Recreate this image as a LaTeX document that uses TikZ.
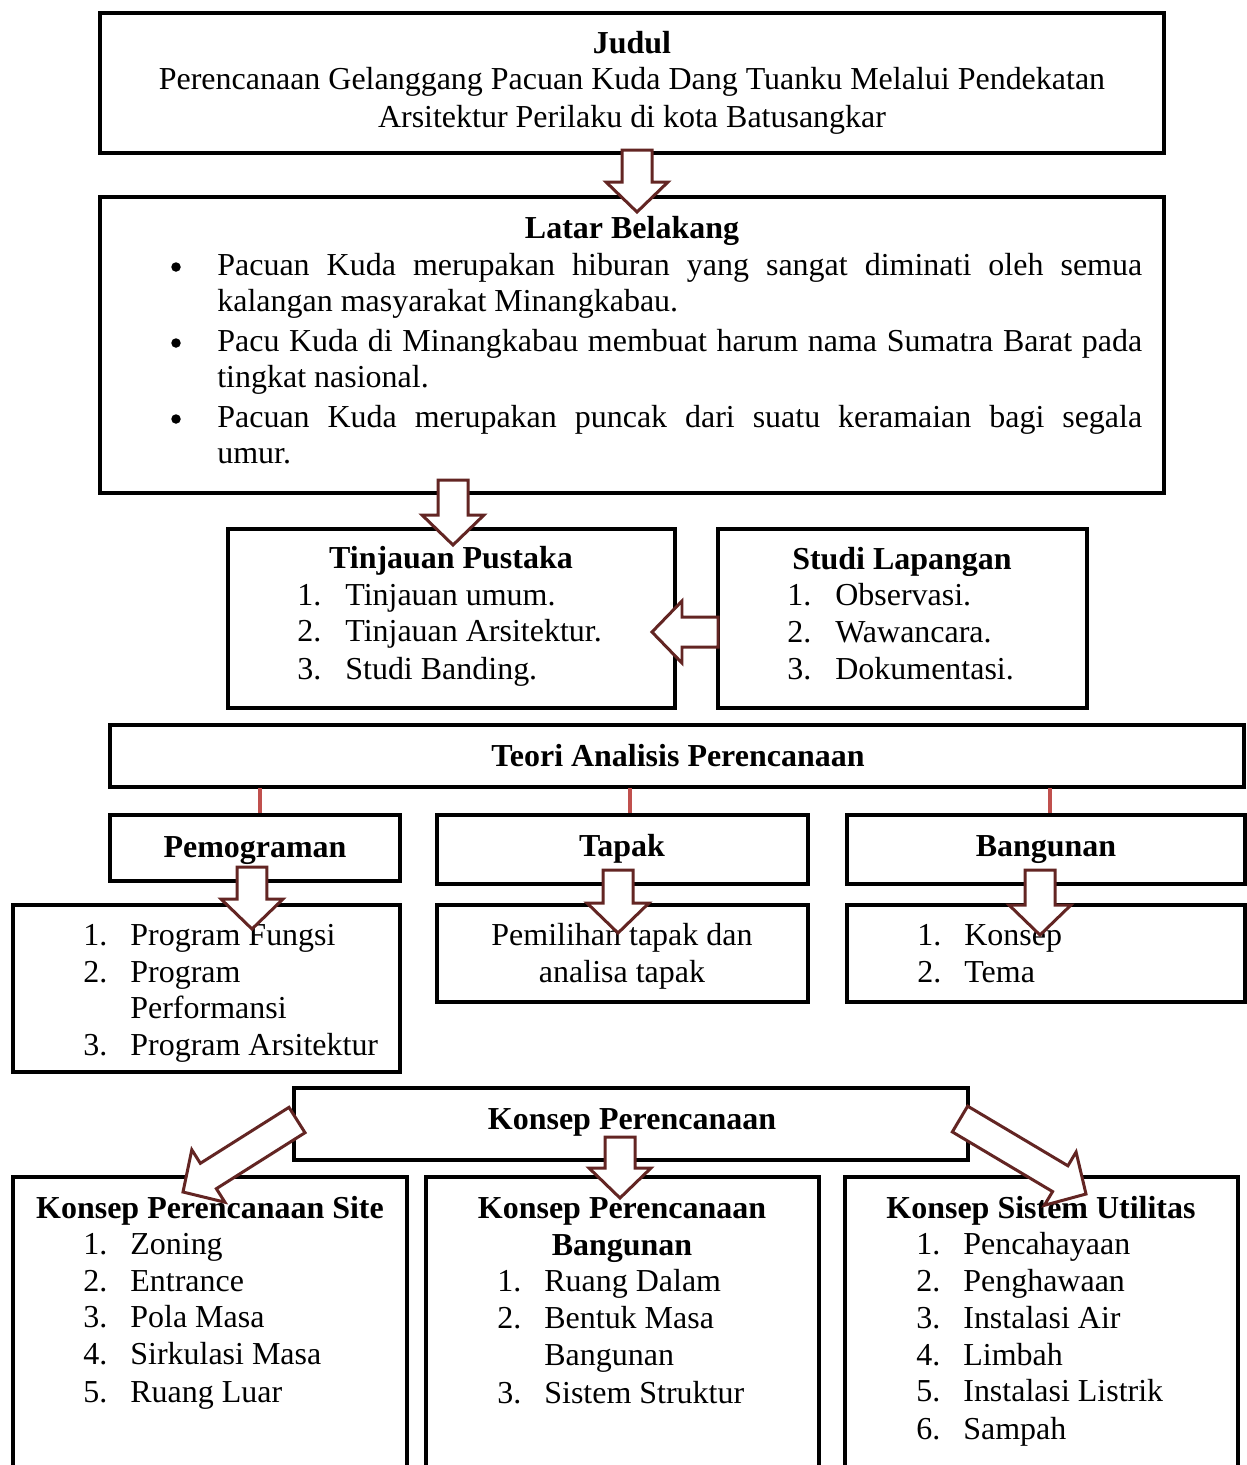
\documentclass[tikz,border=0pt]{standalone}
\usepackage{fontspec}
\setmainfont{Liberation Serif}
\usetikzlibrary{calc,fit}
\definecolor{arrred}{HTML}{632523}
\definecolor{linkred}{HTML}{C0504D}
\tikzset{
  box/.style={draw=black, line width=0.08cm, inner sep=0pt, fill=none},
  thinbox/.style={draw=black, line width=0.065cm, inner sep=0pt},
  txt/.style={inner sep=0pt, font=\fontsize{18.2}{21}\selectfont},
  ttl/.style={txt, font=\fontsize{18.2}{21}\selectfont\bfseries},
  lst/.style={txt, anchor=base west},
  bul/.style={circle, fill=black, inner sep=0pt, minimum size=0.19cm},
  para/.style={txt, anchor=base west, text width=18.5cm, align=justify},
  barr/.style={draw=arrred, line width=0.06cm, fill=white, line join=miter},
  link/.style={draw=linkred, line width=0.08cm},
}
% block arrow from coordinate #1 to tip #2
\newcommand{\blockarrow}[2]{%
  \path ($(#2)!0.6cm!(#1)$) coordinate (hb);
  \draw[barr] ($(#1)!0.3cm!90:(#2)$) -- ($(hb)!0.3cm!90:(#2)$) -- ($(hb)!0.62cm!90:(#2)$)
    -- (#2) -- ($(hb)!0.62cm!-90:(#2)$) -- ($(hb)!0.3cm!-90:(#2)$) -- ($(#1)!0.3cm!-90:(#2)$) -- cycle;
}
\begin{document}
\begin{tikzpicture}[x=0.02cm,y=-0.02cm]
\useasboundingbox[fill=white] (0,0) rectangle (1247,1465);

% ---------- boxes ----------
\node[box, fit={(100,13) (1164,153)}] (judul) {};
\node[box, fit={(100,197) (1164,493)}] (latar) {};
\node[box, fit={(228,529) (675,708)}] (tinjau) {};
\node[box, fit={(718,529) (1087,708)}] (studi) {};
\node[thinbox, fit={(110,725) (1244,787)}] (teori) {};
\node[box, fit={(110,815) (400,881)}] (pemo) {};
\node[box, fit={(437,815) (808,884)}] (tapak) {};
\node[box, fit={(847,815) (1245,884)}] (bang) {};
\node[box, fit={(13,905) (400,1072)}] (pemol) {};
\node[box, fit={(437,905) (808,1002)}] (tapakl) {};
\node[box, fit={(847,905) (1245,1002)}] (bangl) {};
\node[box, fit={(294,1088) (968,1160)}] (konsep) {};
\node[box, fit={(13,1177) (407,1490)}] (site) {};
\node[box, fit={(426,1177) (819,1490)}] (kbang) {};
\node[box, fit={(845,1177) (1238,1490)}] (util) {};

% ---------- links ----------
\coordinate (l1) at (260,788); \coordinate (l2) at (630,788); \coordinate (l3) at (1050,788);
\draw[link] (l1) -- (l1 |- pemo.north);
\draw[link] (l2) -- (l2 |- tapak.north);
\draw[link] (l3) -- (l3 |- bang.north);

% ---------- text ----------
\node[ttl, anchor=base] (tj) at (632,53) {Judul};
\node[txt, anchor=base] (tj2) at (632,89) {Perencanaan Gelanggang Pacuan Kuda Dang Tuanku Melalui Pendekatan};
\node[txt, anchor=base] (tj3) at (632,127) {Arsitektur Perilaku di kota Batusangkar};

\node[ttl, anchor=base] (tl) at (632,238) {Latar Belakang};
\node[bul] (b1) at (176,267) {};
\node[para] (p1) at (217,275) {Pacuan Kuda merupakan hiburan yang sangat diminati oleh semua\linebreak kalangan masyarakat Minangkabau.};
\node[bul] (b2) at (176,343) {};
\node[para] (p2) at (217,351) {Pacu Kuda di Minangkabau membuat harum nama Sumatra Barat pada\linebreak tingkat nasional.};
\node[bul] (b3) at (176,419) {};
\node[para] (p3) at (217,427) {Pacuan Kuda merupakan puncak dari suatu keramaian bagi segala\linebreak umur.};

\node[ttl, anchor=base] (tt) at (451,568) {Tinjauan Pustaka};
\node[lst] (tn1) at (297,605) {1.}; \node[lst] (tx1) at (345,605) {Tinjauan umum.};
\node[lst] (tn2) at (297,641) {2.}; \node[lst] (tx2) at (345,641) {Tinjauan Arsitektur.};
\node[lst] (tn3) at (297,679) {3.}; \node[lst] (tx3) at (345,679) {Studi Banding.};

\node[ttl, anchor=base] (ts) at (902,569) {Studi Lapangan};
\node[lst] (sn1) at (787,605) {1.}; \node[lst] (sx1) at (835,605) {Observasi.};
\node[lst] (sn2) at (787,642) {2.}; \node[lst] (sx2) at (835,642) {Wawancara.};
\node[lst] (sn3) at (787,679) {3.}; \node[lst] (sx3) at (835,679) {Dokumentasi.};

\node[ttl, anchor=base] (tte) at (678,766) {Teori Analisis Perencanaan};
\node[ttl, anchor=base] (tp) at (255,857) {Pemograman};
\node[ttl, anchor=base] (tta) at (622,856) {Tapak};
\node[ttl, anchor=base] (tb) at (1046,856) {Bangunan};

\node[lst] (pn1) at (83,945) {1.}; \node[lst] (px1) at (130,945) {Program Fungsi};
\node[lst] (pn2) at (83,982) {2.}; \node[lst] (px2) at (130,982) {Program};
\node[lst] (px2b) at (130,1018) {Performansi};
\node[lst] (pn3) at (83,1055) {3.}; \node[lst] (px3) at (130,1055) {Program Arsitektur};

\node[txt, anchor=base] (ta1) at (622,945) {Pemilihan tapak dan};
\node[txt, anchor=base] (ta2) at (622,982) {analisa tapak};

\node[lst] (bn1) at (917,945) {1.}; \node[lst] (bx1) at (964,945) {Konsep};
\node[lst] (bn2) at (917,982) {2.}; \node[lst] (bx2) at (964,982) {Tema};

\node[ttl, anchor=base] (tk) at (632,1129) {Konsep Perencanaan};

\node[ttl, anchor=base] (tks) at (210,1218) {Konsep Perencanaan Site};
\node[lst] (kn1) at (83,1254) {1.}; \node[lst] (kx1) at (130,1254) {Zoning};
\node[lst] (kn2) at (83,1291) {2.}; \node[lst] (kx2) at (130,1291) {Entrance};
\node[lst] (kn3) at (83,1327) {3.}; \node[lst] (kx3) at (130,1327) {Pola Masa};
\node[lst] (kn4) at (83,1364) {4.}; \node[lst] (kx4) at (130,1364) {Sirkulasi Masa};
\node[lst] (kn5) at (83,1402) {5.}; \node[lst] (kx5) at (130,1402) {Ruang Luar};

\node[ttl, anchor=base] (tkb) at (622,1218) {Konsep Perencanaan};
\node[ttl, anchor=base] (tkb2) at (622,1255) {Bangunan};
\node[lst] (gn1) at (497,1291) {1.}; \node[lst] (gx1) at (544,1291) {Ruang Dalam};
\node[lst] (gn2) at (497,1328) {2.}; \node[lst] (gx2) at (544,1328) {Bentuk Masa};
\node[lst] (gx2b) at (544,1365) {Bangunan};
\node[lst] (gn3) at (497,1403) {3.}; \node[lst] (gx3) at (544,1403) {Sistem Struktur};

\node[ttl, anchor=base] (tku) at (1041,1218) {Konsep Sistem Utilitas};
\node[lst] (un1) at (916,1254) {1.}; \node[lst] (ux1) at (963,1254) {Pencahayaan};
\node[lst] (un2) at (916,1291) {2.}; \node[lst] (ux2) at (963,1291) {Penghawaan};
\node[lst] (un3) at (916,1328) {3.}; \node[lst] (ux3) at (963,1328) {Instalasi Air};
\node[lst] (un4) at (916,1365) {4.}; \node[lst] (ux4) at (963,1365) {Limbah};
\node[lst] (un5) at (916,1401) {5.}; \node[lst] (ux5) at (963,1401) {Instalasi Listrik};
\node[lst] (un6) at (916,1439) {6.}; \node[lst] (ux6) at (963,1439) {Sampah};

% ---------- block arrows ----------
\coordinate (a1s) at (637,150); \coordinate (a1e) at (637,212);
\blockarrow{a1s}{a1e}
\coordinate (a2s) at (453,480); \coordinate (a2e) at (453,545);
\blockarrow{a2s}{a2e}
\coordinate (a3s) at (718,632); \coordinate (a3e) at (652,632);
\blockarrow{a3s}{a3e}
\coordinate (a4s) at (252,867); \coordinate (a4e) at (252,929);
\blockarrow{a4s}{a4e}
\coordinate (a5s) at (618,870); \coordinate (a5e) at (618,933);
\blockarrow{a5s}{a5e}
\coordinate (a6s) at (1040,870); \coordinate (a6e) at (1040,935);
\blockarrow{a6s}{a6e}
\coordinate (a7s) at (620,1137); \coordinate (a7e) at (620,1198);
\blockarrow{a7s}{a7e}
\coordinate (a8s) at (297,1120); \coordinate (a8e) at (183,1192);
\blockarrow{a8s}{a8e}
\coordinate (a9s) at (960,1119); \coordinate (a9e) at (1086,1194);
\blockarrow{a9s}{a9e}
\end{tikzpicture}
\end{document}
